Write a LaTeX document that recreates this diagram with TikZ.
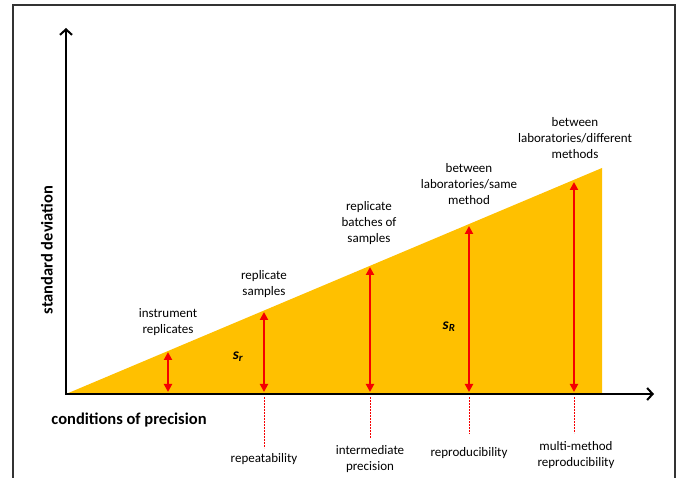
\documentclass[tikz,border=0pt]{standalone}
\usepackage{fontspec}
\setmainfont{Carlito}
\usetikzlibrary{arrows.meta}
\definecolor{gold}{HTML}{FFC000}
\definecolor{frame}{HTML}{333333}
\definecolor{vred}{HTML}{F50000}
\tikzset{
  lbl/.style={align=center,font=\fontsize{13}{15.7}\selectfont,text=black,inner sep=0pt},
  axlbl/.style={font=\fontsize{16.5}{19}\selectfont\bfseries,inner sep=0pt},
  red arrow/.style={draw=vred,line width=2.2pt,{Triangle[length=8pt,width=8pt]}-{Triangle[length=8pt,width=8pt]}},
  dropline/.style={draw=vred,line width=0.8pt,dash pattern=on 2pt off 1pt},
  axis/.style={draw=black,line width=2pt,-{Straight Barb[length=5.5pt,width=12pt,line width=2pt]}}
}
\begin{document}
\begin{tikzpicture}[x=1pt,y=-1pt]
\useasboundingbox (0,0) rectangle (681,478);
% frame
\draw[frame,line width=2pt] (13,480) -- (13,5) -- (675,5) -- (675,480);
% triangle
\coordinate (O) at (66,394);
\coordinate (R) at (602,394);
\coordinate (T) at (602,168);
\fill[gold] (O) -- (R) -- (T) -- cycle;
% axes
\coordinate (yend) at (66,28);
\coordinate (xend) at (654,394);
\draw[axis] (O) -- (yend);
\draw[axis] (65,394) -- (xend);
% arrow coordinates
\coordinate (a1b) at (168,392); \coordinate (a1t) at (168,352);
\coordinate (a2b) at (264,392); \coordinate (a2t) at (264,312);
\coordinate (a3b) at (370,392); \coordinate (a3t) at (370,267);
\coordinate (a4b) at (469,392); \coordinate (a4t) at (469,226);
\coordinate (a5b) at (574,392); \coordinate (a5t) at (574,182);
\draw[red arrow] (a1b) -- (a1t);
\draw[red arrow] (a2b) -- (a2t);
\draw[red arrow] (a3b) -- (a3t);
\draw[red arrow] (a4b) -- (a4t);
\draw[red arrow] (a5b) -- (a5t);
% drop lines
\coordinate (d2t) at (264,397); \coordinate (d2b) at (264,448);
\coordinate (d3t) at (370,397); \coordinate (d3b) at (370,438);
\coordinate (d4t) at (469,397); \coordinate (d4b) at (469,434);
\coordinate (d5t) at (574,397); \coordinate (d5b) at (574,433);
\draw[dropline] (d2t) -- (d2b);
\draw[dropline] (d3t) -- (d3b);
\draw[dropline] (d4t) -- (d4b);
\draw[dropline] (d5t) -- (d5b);
% axis labels
\node[axlbl,rotate=90] (ylab) at (47,250) {standard deviation};
\node[axlbl] (xlab) at (129,420) {conditions of precision};
% upper labels
\node[lbl] (l1) at (168,322) {instrument\\replicates};
\node[lbl] (l2) at (264,284) {replicate\\samples};
\node[lbl] (l3) at (369,223) {replicate\\batches of\\samples};
\node[lbl] (l4) at (469,184) {between\\laboratories/same\\method};
\node[lbl] (l5) at (575,138) {between\\laboratories/different\\methods};
% lower labels
\node[lbl] (b2) at (264,459) {repeatability};
\node[lbl] (b3) at (370,459) {intermediate\\precision};
\node[lbl] (b4) at (469,453) {reproducibility};
\node[lbl] (b5) at (576,455) {multi-method\\reproducibility};
% s symbols
\node[inner sep=0pt,font=\fontsize{15.5}{18}\selectfont\bfseries\itshape] (sr) at (238,357) {s\textsubscript{r}};
\node[inner sep=0pt,font=\fontsize{15.5}{18}\selectfont\bfseries\itshape] (sR) at (449,327) {s\textsubscript{R}};
\end{tikzpicture}
\end{document}
